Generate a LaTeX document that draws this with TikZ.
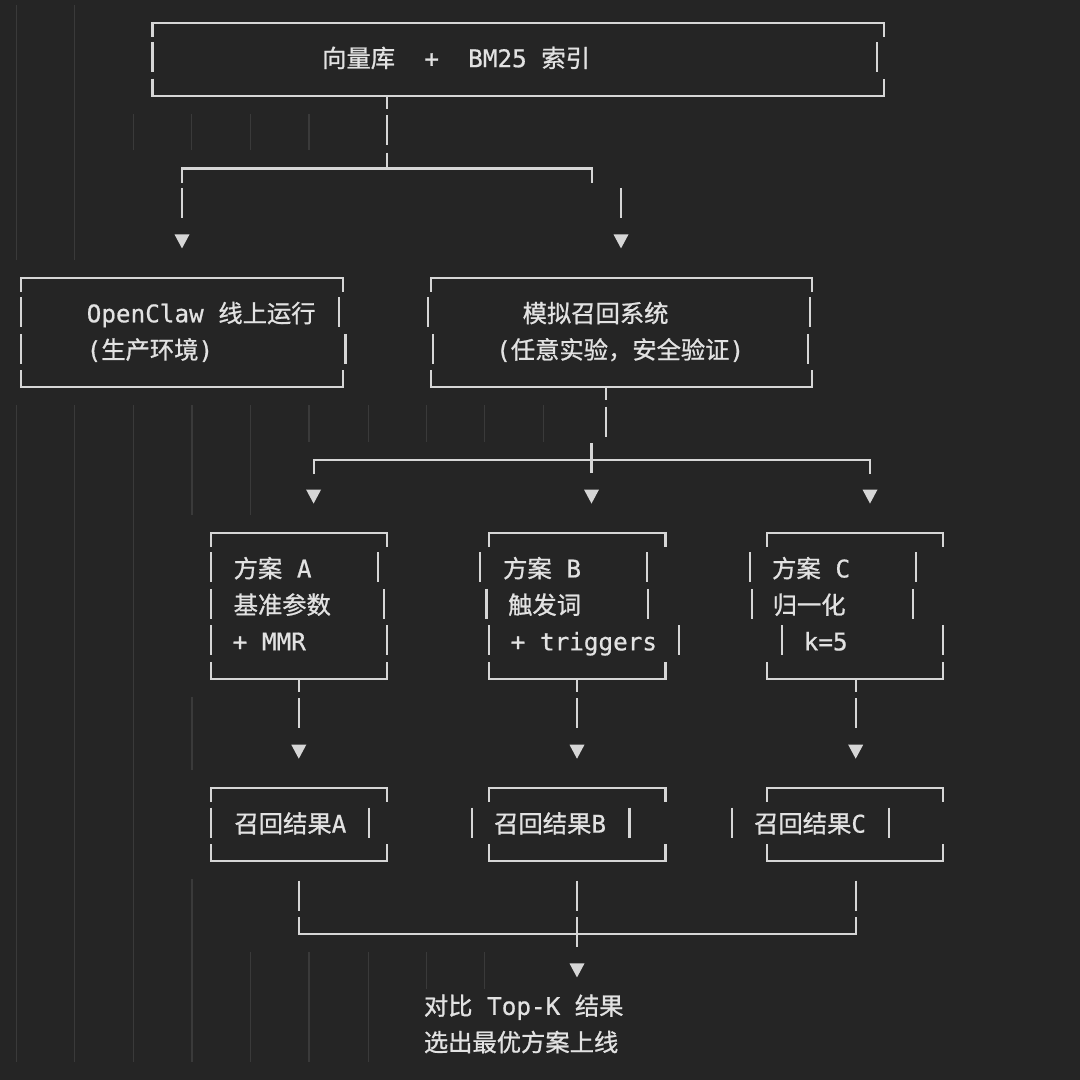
\documentclass[tikz,border=0pt]{standalone}
\usepackage{fontspec}
\setmonofont{DejaVu Sans Mono}[FakeBold=0.7]
\newfontfamily\cjk{Noto Sans CJK SC}[FakeBold=0.9]
\definecolor{bgc}{HTML}{252525}
\definecolor{fgc}{HTML}{D6D6D6}
\definecolor{txc}{HTML}{E2E2E2}
\definecolor{gdc}{HTML}{3A3A3A}
\newcommand\gap{\hspace*{14.63pt}}
\newcommand\cj[1]{{\cjk #1}}
\newcommand\rkvb[2]{\draw[ln] (#1,{R(#2)-17}) -- (#1,{R(#2)+13});}
\newcommand\rktop[3]{\draw[ln] (#1,{R(#3)+14}) -- (#1,{R(#3)}) -- (#2,{R(#3)}) -- (#2,{R(#3)+14});}
\newcommand\rkbot[3]{\draw[ln] (#1,{R(#3)-17}) -- (#1,{R(#3)}) -- (#2,{R(#3)}) -- (#2,{R(#3)-17});}
\newcommand\rktee[2]{\draw[ln] (#1,{R(#2)}) -- (#1,{R(#2)+13});}
\newcommand\rktip[2]{\fill[fgc] ({#1-7.5},{R(#2)-7}) -- ({#1+7.5},{R(#2)-7}) -- (#1,{R(#2)+7}) -- cycle;}
\newcommand\rkgd[3]{\draw[guide] (#1,{R(#2)-18.2}) -- (#1,{R(#3)+18.2});}
\begin{document}
\begin{tikzpicture}[x=1pt,y=-1pt,
  declare function={R(\n)=22.7+36.45*\n;},
  ln/.style={draw=fgc,line width=2.2pt},
  guide/.style={draw=gdc,line width=1.3pt},
  txt/.style={anchor=base west,inner sep=0pt,text=txc,font=\ttfamily\fontsize{24.3}{29}\selectfont}]
\fill[bgc] (0,0) rectangle (1080,1080);
\useasboundingbox (0,0) rectangle (1080,1080);
% indentation guides
\rkgd{16.5}{0}{6} \rkgd{74.7}{0}{6}
\rkgd{133.3}{3}{3} \rkgd{191.8}{3}{3} \rkgd{250.7}{3}{3} \rkgd{308.9}{3}{3}
\rkgd{16.5}{11}{28} \rkgd{74.7}{11}{28} \rkgd{133.3}{11}{28}
\rkgd{192}{11}{13} \rkgd{192}{19}{20} \rkgd{192}{24}{28}
\rkgd{250.7}{11}{13} \rkgd{250.7}{26}{28}
\rkgd{309.1}{11}{11} \rkgd{309.1}{26}{28}
\rkgd{368.4}{11}{11} \rkgd{368.4}{26}{28}
\rkgd{426.2}{11}{11} \rkgd{426.2}{26}{26}
\rkgd{484.8}{11}{11} \rkgd{484.8}{26}{26}
\rkgd{543.3}{11}{11}
% box 1
\rktop{152.5}{884}{0}
\rkvb{152.5}{1} \rkvb{877}{1}
\rkbot{152.5}{884}{2}
\node[txt] (t1) at (322,{R(1)+8}) {\cj{向量库}\gap\gap+\gap\gap BM25\gap\cj{索引}};
\rktee{387}{2}
\rkvb{387}{3}
\draw[ln] (387,{R(4)-16}) -- (387,{R(4)});
\rktop{182}{592}{4}
\rkvb{182}{5} \rkvb{621}{5}
\rktip{182}{6} \rktip{621}{6}
% box 2
\rktop{21.3}{343.3}{7}
\rkvb{21.3}{8} \rkvb{339}{8}
\rkvb{21.3}{9} \rkvb{345.4}{9}
\rkbot{21.3}{343.3}{10}
\node[txt] (t2a) at (86.5,{R(8)+8}) {OpenClaw\gap\cj{线上运行}};
\node[txt] (t2b) at (86.5,{R(9)+8}) {(\cj{生产环境})};
% box 3
\rktop{431}{812}{7}
\rkvb{427.7}{8} \rkvb{810.3}{8}
\rkvb{433.2}{9} \rkvb{808}{9}
\rkbot{431}{812}{10}
\node[txt] (t3a) at (522.5,{R(8)+8}) {\cj{模拟召回系统}};
\node[txt] (t3b) at (496,{R(9)+8}) {(\cj{任意实验，安全验证})};
\rktee{606}{10}
\rkvb{606}{11}
\rkvb{591.5}{12}
\rktop{313.6}{870}{12}
\rktip{313.6}{13} \rktip{591.5}{13} \rktip{870}{13}
% box A
\rktop{211}{387.3}{14}
\rkvb{211}{15} \rkvb{378}{15}
\rkvb{211}{16} \rkvb{383.9}{16}
\rkvb{211}{17} \rkvb{387.3}{17}
\rkbot{211}{387.3}{18}
\node[txt] (a1) at (233.5,{R(15)+8}) {\cj{方案}\gap A};
\node[txt] (a2) at (233.5,{R(16)+8}) {\cj{基准参数}};
\node[txt] (a3) at (232.5,{R(17)+8}) {+ MMR};
% box B
\rktop{489}{665.5}{14}
\rkvb{480.3}{15} \rkvb{647.3}{15}
\rkvb{486.5}{16} \rkvb{648.3}{16}
\rkvb{489.2}{17} \rkvb{679.3}{17}
\rkbot{489}{665.5}{18}
\node[txt] (b1) at (503,{R(15)+8}) {\cj{方案}\gap B};
\node[txt] (b2) at (508,{R(16)+8}) {\cj{触发词}};
\node[txt] (b3) at (510.5,{R(17)+8}) {+ triggers};
% box C
\rktop{767.3}{943.3}{14}
\rkvb{750}{15} \rkvb{916}{15}
\rkvb{751.7}{16} \rkvb{913.3}{16}
\rkvb{781.7}{17} \rkvb{943.3}{17}
\rkbot{767.3}{943.3}{18}
\node[txt] (c1) at (772,{R(15)+8}) {\cj{方案}\gap C};
\node[txt] (c2) at (772.5,{R(16)+8}) {\cj{归一化}};
\node[txt] (c3) at (803.5,{R(17)+8}) {k=5};
% down to results
\rktee{298.8}{18} \rktee{577}{18} \rktee{855.7}{18}
\rkvb{298.8}{19} \rkvb{577}{19} \rkvb{855.7}{19}
\rktip{298.8}{20} \rktip{577}{20} \rktip{855.7}{20}
% result boxes
\rktop{211}{387.3}{21}
\rkvb{211}{22} \rkvb{368.7}{22}
\rkbot{211}{387.3}{23}
\node[txt] (ra) at (234.3,{R(22)+8}) {\cj{召回结果}A};
\rktop{489}{665.5}{21}
\rkvb{471.7}{22} \rkvb{629.4}{22}
\rkbot{489}{665.5}{23}
\node[txt] (rb) at (494,{R(22)+8}) {\cj{召回结果}B};
\rktop{767.3}{943.3}{21}
\rkvb{731.7}{22} \rkvb{889.3}{22}
\rkbot{767.3}{943.3}{23}
\node[txt] (rc) at (754,{R(22)+8}) {\cj{召回结果}C};
% merge
\rkvb{298.8}{24} \rkvb{577}{24} \rkvb{855.7}{24}
\rkbot{298.8}{855.7}{25}
\rkvb{577}{25}
\rktip{577}{26}
\node[txt] (f1) at (423.7,{R(27)+8}) {\cj{对比}\gap Top-K\gap\cj{结果}};
\node[txt] (f2) at (423.7,{R(28)+8}) {\cj{选出最优方案上线}};
\end{tikzpicture}
\end{document}
